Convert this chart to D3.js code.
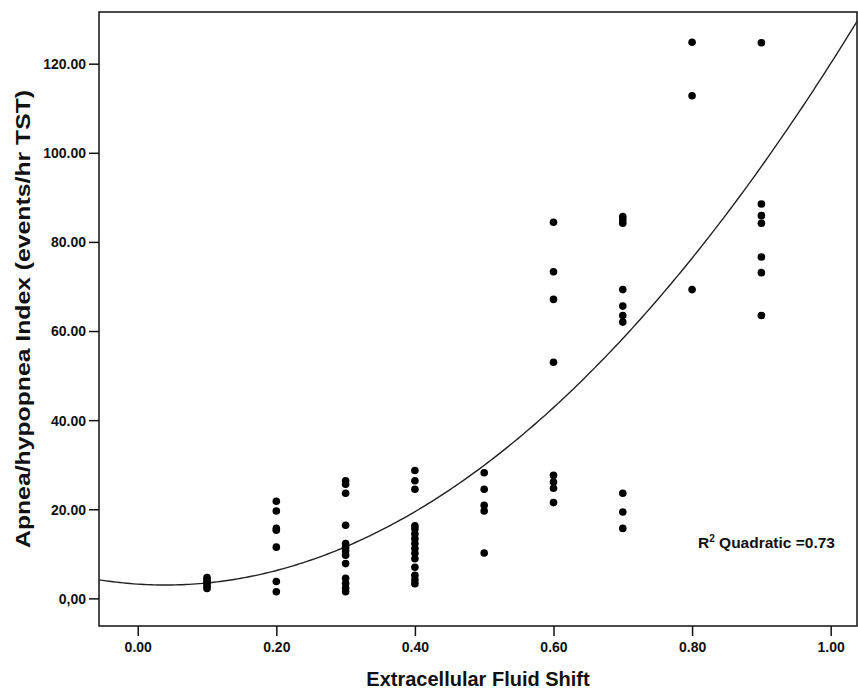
<!DOCTYPE html>
<html lang="en">
<head>
<meta charset="utf-8">
<title>Apnea/hypopnea Index vs Extracellular Fluid Shift</title>
<script src="https://cdn.jsdelivr.net/npm/d3@7"></script>
<style>
  body { margin: 0; background: #fff; }
  svg { display: block; font-family: "Liberation Sans", Arial, sans-serif; }
  .tick text { font-size: 14px; font-weight: bold; fill: #111; }
</style>
</head>
<body>
<svg id="chart" width="858" height="692"></svg>
<script>

// x values (fluid shift) – one per group of points
var shiftLevels = [0.1, 0.2, 0.3, 0.4, 0.5, 0.6, 0.7, 0.8, 0.9];

// AHI values, one array per shift level
var ahiByShift = [
  [2.2, 2.7, 3.2, 3.7, 4.2, 4.7],
  [21.8, 19.6, 15.7, 15.3, 11.5, 3.8, 1.5],
  [26.4, 25.6, 23.6, 16.4, 12.3, 11.5, 10.7, 9.7, 7.8, 4.5, 3.4, 2.3, 1.5],
  [28.7, 26.4, 24.5, 16.3, 15.6, 14.5, 13.4, 12.3, 11.2, 10.1, 8.9, 7.0, 5.2, 4.2, 3.3],
  [28.2, 24.5, 20.9, 19.6, 10.2],
  [84.4, 73.3, 67.1, 53.0, 27.6, 26.1, 24.7, 21.5],
  [85.7, 85.0, 84.2, 69.3, 65.6, 63.5, 62.0, 23.6, 19.4, 15.7],
  [124.8, 112.8, 69.3],
  [124.7, 88.5, 85.9, 84.2, 76.6, 73.1, 63.5]
];

var xTicks = [0, 0.2, 0.4, 0.6, 0.8, 1.0];
var yTicks = [0, 20, 40, 60, 80, 100, 120];

// quadratic fit  y = a + b*x + c*x^2
var fitCoef = [3.2, -10.16, 127];
var rSquared = "0.73";

var box = { left: 99, top: 12, right: 857, bottom: 626 };

var svg = d3.select("#chart");

var x = d3.scaleLinear().domain([-0.0559, 1.038]).range([box.left, box.right]);
var y = d3.scaleLinear().domain([-6.2, 131.6]).range([box.bottom, box.top]);

// flatten the groups into points
var points = [];
shiftLevels.forEach(function(s, i) {
  ahiByShift[i].forEach(function(v) { points.push({ x: s, y: v }); });
});

// frame
svg.append("rect")
  .attr("x", box.left).attr("y", box.top)
  .attr("width", box.right - box.left).attr("height", box.bottom - box.top)
  .attr("fill", "none").attr("stroke", "#111").attr("stroke-width", 1.5);

// axes
var xAxis = svg.append("g")
  .attr("transform", "translate(0," + box.bottom + ")")
  .call(d3.axisBottom(x).tickValues(xTicks).tickSize(10).tickPadding(6)
    .tickFormat(d3.format(".2f")));

var yAxis = svg.append("g")
  .attr("transform", "translate(" + box.left + ",0)")
  .call(d3.axisLeft(y).tickValues(yTicks).tickSize(10).tickPadding(3)
    .tickFormat(function(d) { return d === 0 ? "0,00" : d3.format(".2f")(d); }));

svg.selectAll(".domain").remove();
svg.selectAll(".tick line").attr("stroke", "#111").attr("stroke-width", 1.5);
yAxis.selectAll(".tick text").attr("dy", "0.35em");

// fit curve
var curveX = d3.range(-0.0559, 1.04, 0.005);
var line = d3.line()
  .x(function(d) { return x(d); })
  .y(function(d) { return y(fitCoef[0] + fitCoef[1] * d + fitCoef[2] * d * d); });

svg.append("clipPath").attr("id", "plotclip")
  .append("rect")
  .attr("x", box.left).attr("y", box.top)
  .attr("width", box.right - box.left).attr("height", box.bottom - box.top);

svg.append("path")
  .datum(curveX)
  .attr("d", line)
  .attr("clip-path", "url(#plotclip)")
  .attr("fill", "none")
  .attr("stroke", "#222")
  .attr("stroke-width", 1.4);

// points
svg.selectAll("circle.pt")
  .data(points)
  .enter()
  .append("circle")
  .attr("class", "pt")
  .attr("cx", function(d) { return x(d.x); })
  .attr("cy", function(d) { return y(d.y); })
  .attr("r", 3.8)
  .attr("fill", "#000");

// r squared label
var rt = svg.append("text")
  .attr("x", 698).attr("y", 548)
  .attr("font-size", "15.5px").attr("font-weight", "bold").attr("fill", "#111");
rt.append("tspan").text("R");
rt.append("tspan").attr("font-size", "10px").attr("dy", "-6").text("2");
rt.append("tspan").attr("dy", "6").text(" Quadratic =" + rSquared);

// axis titles
svg.append("text")
  .attr("x", 478).attr("y", 686)
  .attr("text-anchor", "middle")
  .attr("font-size", "20px").attr("font-weight", "bold").attr("fill", "#111")
  .text("Extracellular Fluid Shift");

svg.append("text")
  .attr("transform", "translate(30,319) rotate(-90)")
  .attr("text-anchor", "middle")
  .attr("font-size", "21px").attr("font-weight", "bold").attr("fill", "#111")
  .attr("textLength", 458).attr("lengthAdjust", "spacingAndGlyphs")
  .text("Apnea/hypopnea Index (events/hr TST)");

</script>
</body>
</html>
